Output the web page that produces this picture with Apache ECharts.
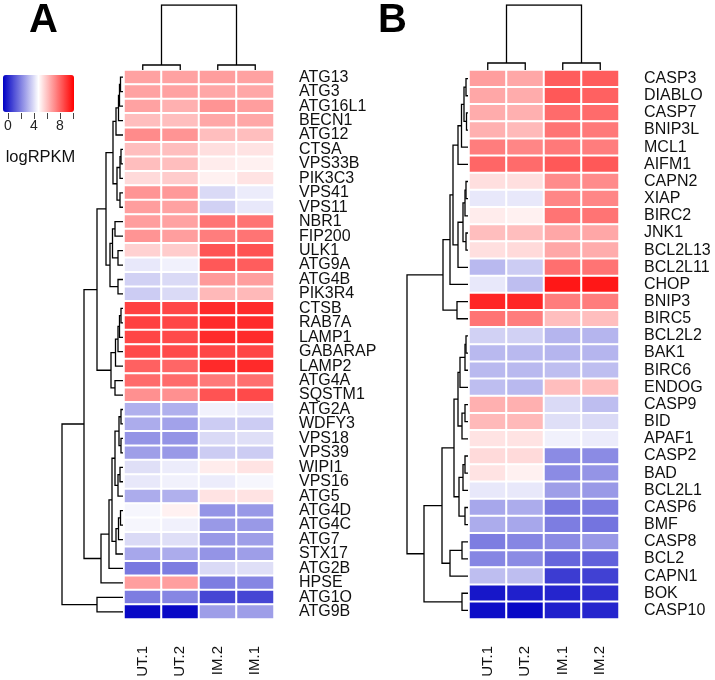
<!DOCTYPE html>
<html>
<head>
<meta charset="utf-8">
<script src="https://cdn.jsdelivr.net/npm/echarts@6/dist/echarts.min.js"></script>
<style>html,body{margin:0;padding:0;background:#fff}#c{width:715px;height:680px}</style>
</head>
<body>
<div id="c"></div>
<script>
// ---------- DATA ----------
const aCols = ['UT.1', 'UT.2', 'IM.2', 'IM.1'];
const aGenes = ['ATG13','ATG3','ATG16L1','BECN1','ATG12','CTSA','VPS33B','PIK3C3','VPS41','VPS11','NBR1','FIP200','ULK1','ATG9A','ATG4B','PIK3R4','CTSB','RAB7A','LAMP1','GABARAP','LAMP2','ATG4A','SQSTM1','ATG2A','WDFY3','VPS18','VPS39','WIPI1','VPS16','ATG5','ATG4D','ATG4C','ATG7','STX17','ATG2B','HPSE','ATG1O','ATG9B'];
const aValues = [
  [6.7,6.7,6.8,6.7],[6.7,6.7,6.6,6.6],[6.7,6.4,7.0,6.8],[6.1,6.1,6.6,6.6],[7.2,7.0,6.1,6.1],
  [6.1,6.1,5.4,5.3],[6.1,6.1,5.1,5.0],[5.5,5.8,5.0,5.3],[7.0,6.9,3.9,4.3],[6.8,6.7,3.7,4.2],
  [6.8,6.7,7.7,7.7],[7.0,6.8,7.5,7.7],[5.7,5.8,8.4,8.4],[4.2,4.4,8.3,8.2],[3.7,3.9,6.9,6.8],
  [3.6,3.9,6.2,6.2],[8.8,8.7,9.3,9.3],[8.8,8.7,9.3,9.3],[8.7,8.6,9.3,9.3],[8.6,8.6,8.7,8.7],
  [8.1,8.0,9.3,9.3],[7.9,7.9,7.6,7.8],[7.1,7.1,8.4,8.6],[3.0,3.0,4.4,4.2],[2.9,2.7,3.6,3.6],
  [2.4,2.4,3.9,4.0],[2.6,2.5,3.6,3.6],[4.0,4.3,5.1,5.3],[4.2,4.4,4.3,4.5],[2.9,3.0,5.3,5.3],
  [4.5,5.0,2.4,2.5],[4.5,4.4,2.5,2.5],[3.9,4.0,2.5,2.6],[2.8,2.9,2.4,2.6],[1.8,1.9,3.9,4.0],
  [6.8,6.8,1.9,2.1],[1.9,2.1,0.7,0.7],[-0.6,-0.6,2.6,2.6]
];
const bCols = ['UT.1', 'UT.2', 'IM.1', 'IM.2'];
const bGenes = ['CASP3','DIABLO','CASP7','BNIP3L','MCL1','AIFM1','CAPN2','XIAP','BIRC2','JNK1','BCL2L13','BCL2L11','CHOP','BNIP3','BIRC5','BCL2L2','BAK1','BIRC6','ENDOG','CASP9','BID','APAF1','CASP2','BAD','BCL2L1','CASP6','BMF','CASP8','BCL2','CAPN1','BOK','CASP10'];
const bValues = [
  [6.8,6.6,8.2,8.2],[6.6,6.5,8.3,8.1],[6.5,6.4,7.9,7.9],[6.4,6.2,7.7,7.6],[7.5,7.3,7.6,7.5],
  [8.0,7.9,8.3,8.3],[5.4,5.4,7.2,7.2],[4.2,4.2,7.3,7.3],[5.1,5.0,7.7,7.7],[6.1,6.1,6.6,6.6],
  [5.4,5.5,6.6,6.5],[3.2,3.6,7.8,7.7],[4.2,3.3,9.7,9.7],[9.4,9.4,7.5,7.5],[7.7,7.5,6.1,6.1],
  [3.7,3.7,3.1,3.1],[3.2,3.2,3.1,3.1],[3.2,3.2,3.3,3.3],[3.3,3.2,6.1,6.1],[6.4,6.4,3.9,3.3],
  [6.2,6.2,4.0,3.9],[5.3,5.3,4.4,4.3],[5.5,5.5,2.2,2.2],[5.3,5.0,2.2,2.4],[4.2,4.2,2.6,2.5],
  [2.8,2.9,1.8,1.9],[2.9,2.8,1.9,1.7],[1.9,2.1,2.2,2.5],[2.1,2.2,1.4,1.3],[3.3,3.3,0.5,0.6],
  [-0.3,-0.1,0.0,0.2],[-0.5,-0.6,-0.1,0.0]
];
// dendrogram merges: [childA, childB, height]; number = leaf index, 'nK' = merge K
const aRowMerge = [
  [0,1,2.5],['n0',2,3.5],['n1',3,4.5],['n2',4,7],[5,6,2],['n4',7,3],[8,9,3],['n5','n6',6],['n3','n7',10],
  [10,11,8],[12,13,5],['n9','n10',10.5],[14,15,5],['n11','n12',13],['n8','n13',17],
  [16,17,2],['n15',18,3.5],['n16',19,5],['n17',20,7.5],[21,22,8],['n18','n19',12],['n14','n20',26],
  [23,24,2],[25,26,2],['n22','n23',4],[27,28,3],['n25',29,5],['n24','n26',8],
  [30,31,2.5],['n28',32,4.5],['n29',33,7],['n27','n30',11],['n31',34,14],['n32',35,22],
  ['n21','n33',39],[36,37,26],['n34','n35',61]
];
const bRowMerge = [
  [0,1,2],[2,3,1.5],['n0','n1',4],['n2',4,6.5],['n3',5,10],
  [6,7,2],['n5',8,3],[9,10,2],['n6','n7',5],['n8',11,10],['n4','n9',15],['n10',12,18],
  [13,14,11],['n11','n12',25],
  [15,16,2],['n14',17,3],['n15',18,8],[19,20,3],['n17',21,6],['n16','n18',10],
  [22,23,3],['n20',24,5],[25,26,3],['n21','n22',9],['n19','n23',14],
  [27,28,6],['n25',29,18],['n24','n26',26],[30,31,6],['n27','n28',44],['n13','n29',61]
];
const aColMerge = [[0,1,5],[2,3,5],['n0','n1',65]];
const bColMerge = [[0,1,7],[2,3,7],['n0','n1',65]];
const keyMin = -0.8, keyMax = 10.2;
const keyTickLabels = [0, 4, 8];

// ---------- helpers ----------
function dendro(merges, isRow) {
  const pos = [], hgt = [], out = [];
  const get = c => typeof c === 'number' ? [c, 0] : [pos[+c.slice(1)], hgt[+c.slice(1)]];
  merges.forEach((m, k) => {
    const [pa, ha] = get(m[0]), [pb, hb] = get(m[1]), h = m[2];
    pos[k] = (pa + pb) / 2; hgt[k] = h;
    const pts = [[ha, pa], [h, pa], [h, pb], [hb, pb]];
    out.push({ coords: isRow ? pts : pts.map(p => [p[1], p[0]]) });
  });
  return out;
}
function heat(vals) {
  const d = [];
  vals.forEach((row, r) => row.forEach((v, c) => d.push([c, r, v])));
  return d;
}
const FONT = 'Liberation Sans, Arial, Helvetica, sans-serif';
const hidden = (g, o) => Object.assign({ gridIndex: g, type: 'value', show: false }, o);
const catX = (g, data) => ({
  gridIndex: g, type: 'category', data, position: 'bottom',
  axisLine: { show: false }, axisTick: { show: false }, splitLine: { show: false },
  axisLabel: { rotate: 90, margin: 27, fontSize: 15, color: '#111', fontFamily: FONT }
});
const catY = (g, data) => ({
  gridIndex: g, type: 'category', data, inverse: true, position: 'right',
  axisLine: { show: false }, axisTick: { show: false }, splitLine: { show: false },
  axisLabel: { margin: 25, fontSize: 16, color: '#111', fontFamily: FONT, interval: 0 }
});
const lineSeries = (xi, data) => ({
  type: 'lines', coordinateSystem: 'cartesian2d', xAxisIndex: xi, yAxisIndex: xi,
  polyline: true, silent: true, data,
  lineStyle: { color: '#000', width: 1.3, opacity: 1 }
});

const chart = echarts.init(document.getElementById('c'), null, { renderer: 'canvas' });
chart.setOption({
  animation: false,
  backgroundColor: '#fff',
  textStyle: { fontFamily: FONT },
  title: [
    { text: 'A', left: 29, top: 1, padding: 0, textStyle: { fontSize: 40, fontWeight: 'bold', color: '#000', fontFamily: FONT } },
    { text: 'B', left: 378, top: 1, padding: 0, textStyle: { fontSize: 40, fontWeight: 'bold', color: '#000', fontFamily: FONT } }
  ],
  grid: [
    { left: 124, top: 70, width: 150, height: 549 },
    { left: 469, top: 70, width: 150, height: 549 },
    { left: 62, top: 70, width: 61, height: 549 },
    { left: 407, top: 70, width: 61, height: 549 },
    { left: 124, top: 5, width: 150, height: 65 },
    { left: 469, top: 5, width: 150, height: 65 },
    { left: 8, top: 100, width: 65, height: 13 }
  ],
  xAxis: [
    catX(0, aCols), catX(1, bCols),
    hidden(2, { min: 0, max: 61, inverse: true }), hidden(3, { min: 0, max: 61, inverse: true }),
    hidden(4, { min: -0.5, max: 3.5 }), hidden(5, { min: -0.5, max: 3.5 }),
    { gridIndex: 6, type: 'value', min: 0, max: 10, interval: 2, position: 'bottom',
      axisLine: { show: false }, splitLine: { show: false },
      axisTick: { show: true, length: 6, lineStyle: { color: '#444', width: 1 } },
      axisLabel: { fontSize: 14, margin: 6, color: '#222', fontFamily: FONT,
        formatter: v => keyTickLabels.indexOf(v) >= 0 ? String(v) : '' },
      name: 'logRPKM', nameLocation: 'middle', nameGap: 36,
      nameTextStyle: { fontSize: 16.5, color: '#111', fontFamily: FONT } }
  ],
  yAxis: [
    catY(0, aGenes), catY(1, bGenes),
    hidden(2, { min: -0.5, max: aGenes.length - 0.5, inverse: true }),
    hidden(3, { min: -0.5, max: bGenes.length - 0.5, inverse: true }),
    hidden(4, { min: 0, max: 65 }), hidden(5, { min: 0, max: 65 }),
    hidden(6, { min: 0, max: 1 })
  ],
  visualMap: {
    type: 'continuous', min: keyMin, max: keyMax, seriesIndex: [0, 1],
    orient: 'horizontal', left: 3, top: 75, itemWidth: 37, itemHeight: 71,
    padding: 0, calculable: false, hoverLink: false, text: null,
    inRange: { color: ['#0000C4', '#FFFFFF', '#FF0000'] }
  },
  series: [
    { type: 'heatmap', xAxisIndex: 0, yAxisIndex: 0, data: heat(aValues),
      itemStyle: { borderColor: '#fff', borderWidth: 2 }, emphasis: { disabled: true } },
    { type: 'heatmap', xAxisIndex: 1, yAxisIndex: 1, data: heat(bValues),
      itemStyle: { borderColor: '#fff', borderWidth: 2 }, emphasis: { disabled: true } },
    lineSeries(2, dendro(aRowMerge, true)),
    lineSeries(3, dendro(bRowMerge, true)),
    lineSeries(4, dendro(aColMerge, false)),
    lineSeries(5, dendro(bColMerge, false))
  ]
});
</script>
</body>
</html>
